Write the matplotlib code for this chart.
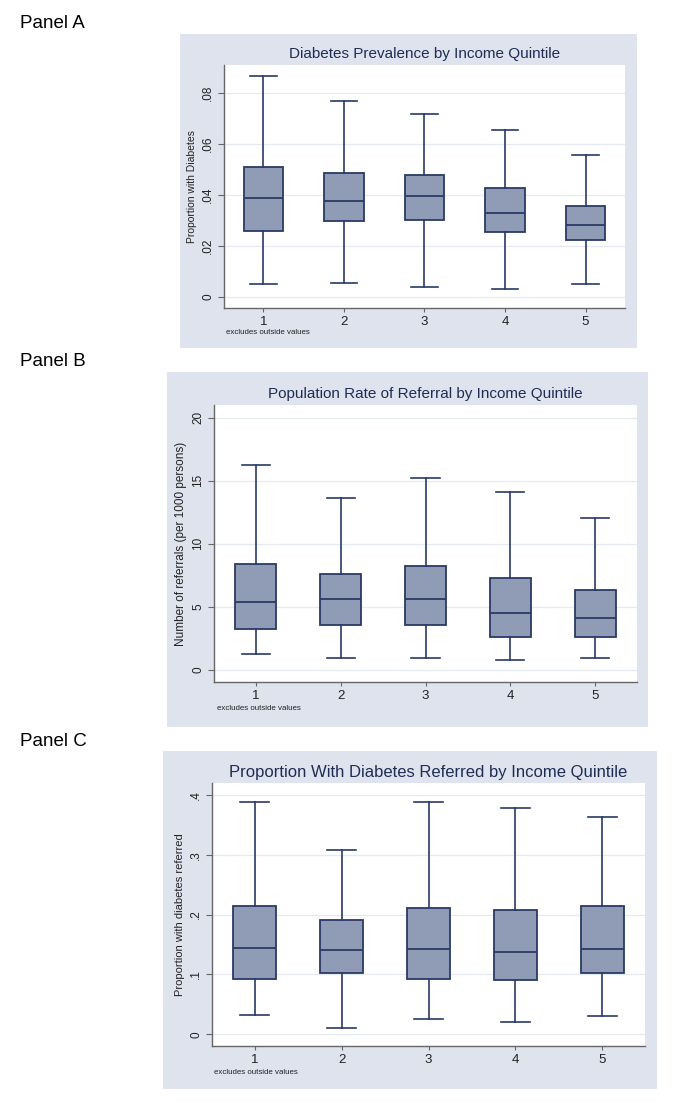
import matplotlib
matplotlib.use("Agg")
import matplotlib.pyplot as plt
from matplotlib.patches import Rectangle

plt.rcParams['font.family'] = ['Liberation Sans', 'DejaVu Sans']

quintiles = [1, 2, 3, 4, 5]

# Panel A: diabetes prevalence
a_lo = [0.0052, 0.0055, 0.0039, 0.0031, 0.0052]
a_q1 = [0.0261, 0.0299, 0.0303, 0.0254, 0.0225]
a_med = [0.0387, 0.0376, 0.0395, 0.0331, 0.0282]
a_q3 = [0.0512, 0.0488, 0.0481, 0.0430, 0.0356]
a_hi = [0.0869, 0.0769, 0.0718, 0.0656, 0.0556]
a_ticks = [0, 0.02, 0.04, 0.06, 0.08]
a_ticklabels = ['0', '.02', '.04', '.06', '.08']

# Panel B: referrals per 1000
b_lo = [1.24, 0.95, 0.92, 0.79, 0.95]
b_q1 = [3.25, 3.54, 3.51, 2.62, 2.56]
b_med = [5.34, 5.60, 5.60, 4.46, 4.12]
b_q3 = [8.40, 7.61, 8.19, 7.29, 6.29]
b_hi = [16.25, 13.63, 15.19, 14.13, 12.07]
b_ticks = [0, 5, 10, 15, 20]
b_ticklabels = ['0', '5', '10', '15', '20']

# Panel C: proportion of diabetics referred
c_lo = [0.0318, 0.0112, 0.0251, 0.0207, 0.0302]
c_q1 = [0.0927, 0.1017, 0.0927, 0.0899, 0.1017]
c_med = [0.1447, 0.1413, 0.1419, 0.1369, 0.1430]
c_q3 = [0.2140, 0.1916, 0.2106, 0.2078, 0.2140]
c_hi = [0.389, 0.308, 0.389, 0.3788, 0.3637]
c_ticks = [0, 0.1, 0.2, 0.3, 0.4]
c_ticklabels = ['0', '.1', '.2', '.3', '.4']

W, H = 685, 1116
fig = plt.figure(figsize=(W / 100, H / 100), dpi=100)

BG = '#dfe3ee'
NAVY = '#2a3a66'
FILL = '#909cb6'


def px_rect(x0, y0, x1, y1):
    return [x0 / W, 1 - y1 / H, (x1 - x0) / W, (y1 - y0) / H]


def panel(bg, ax_box, title, title_y, title_fs, lo, q1, med, q3, hi,
          ticks, ticklabels, ylim, ylabel, ylabel_fs, note_xy):
    fig.patches.append(Rectangle((bg[0], bg[1]), bg[2], bg[3],
                                 transform=fig.transFigure, facecolor=BG,
                                 edgecolor='none', zorder=-5))
    ax = fig.add_axes(px_rect(*ax_box))
    ax.set_zorder(2)
    ax.set_facecolor('white')
    stats = [dict(whislo=lo[i], q1=q1[i], med=med[i], q3=q3[i], whishi=hi[i],
                  label=str(quintiles[i])) for i in range(len(quintiles))]
    ax.bxp(stats, positions=quintiles, widths=0.49, capwidths=0.33,
           showfliers=False, patch_artist=True,
           boxprops=dict(facecolor=FILL, edgecolor=NAVY, linewidth=1.3),
           whiskerprops=dict(color=NAVY, linewidth=1.2),
           capprops=dict(color=NAVY, linewidth=1.2),
           medianprops=dict(color=NAVY, linewidth=1.3))
    ax.set_xlim(0.51, 5.49)
    ax.set_ylim(*ylim)
    ax.set_yticks(ticks)
    ax.set_yticklabels(ticklabels, rotation=90, va='center', fontsize=8.5,
                       color='#222222')
    ax.set_xticks(quintiles)
    ax.set_xticklabels([str(q) for q in quintiles], fontsize=9.5,
                       color='#222222')
    ax.tick_params(axis='y', length=4, color='#666666', pad=3)
    ax.tick_params(axis='x', length=3, color='#666666', pad=3)
    ax.yaxis.grid(True, color='#e4e8f0', linewidth=0.9)
    ax.set_axisbelow(True)
    for s in ['top', 'right']:
        ax.spines[s].set_visible(False)
    for s in ['left', 'bottom']:
        ax.spines[s].set_color('#666666')
        ax.spines[s].set_linewidth(1.0)
    ax.set_ylabel(ylabel, fontsize=ylabel_fs, color='#222222', labelpad=4)
    fig.text((ax_box[0] + ax_box[2]) / 2 / W, 1 - title_y / H, title,
             ha='center', va='center', fontsize=title_fs, color='#1f2d55')
    fig.text(note_xy[0] / W, 1 - note_xy[1] / H, 'excludes outside values',
             ha='left', va='center', fontsize=5.7, color='#222222')
    return ax


panel(px_rect(180, 34, 637, 348), (224, 65, 625, 308),
      'Diabetes Prevalence by Income Quintile', 54, 11,
      a_lo, a_q1, a_med, a_q3, a_hi, a_ticks, a_ticklabels,
      (-0.0043, 0.0911), 'Proportion with Diabetes', 7.5, (226, 332))

panel(px_rect(167, 372, 648, 727), (214, 405, 637, 682),
      'Population Rate of Referral by Income Quintile', 394, 11,
      b_lo, b_q1, b_med, b_q3, b_hi, b_ticks, b_ticklabels,
      (-0.98, 21.0), 'Number of referrals (per 1000 persons)', 8.5, (217, 709))

panel(px_rect(163, 751, 657, 1089), (212, 783, 645, 1046),
      'Proportion With Diabetes Referred by Income Quintile', 773, 12,
      c_lo, c_q1, c_med, c_q3, c_hi, c_ticks, c_ticklabels,
      (-0.0196, 0.420), 'Proportion with diabetes referred', 8, (214, 1072))

for label, y in [('Panel A', 24), ('Panel B', 361), ('Panel C', 741)]:
    fig.text(20 / W, 1 - y / H, label, ha='left', va='center', fontsize=13.5,
             color='black')

fig.savefig('out.png', dpi=100)
